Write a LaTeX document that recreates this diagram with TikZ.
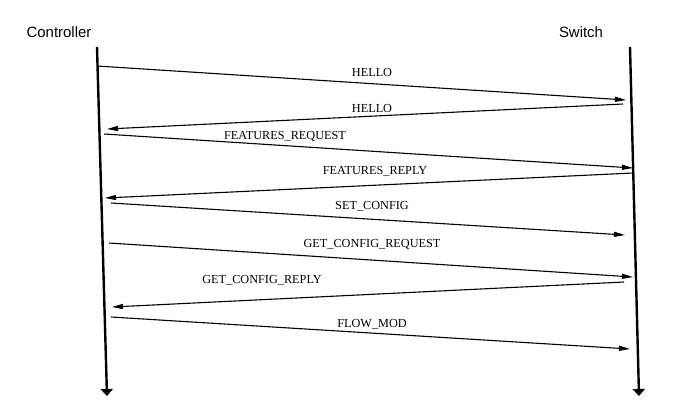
\documentclass[tikz,border=0pt]{standalone}
\usepackage{fontspec}
\setmainfont{Liberation Serif}
\setsansfont{Liberation Sans}
\usetikzlibrary{arrows.meta, positioning}

\tikzset{
  party/.style={font=\sffamily\fontsize{15}{17}\selectfont, inner sep=0pt},
  life/.style={line width=2.4bp, -{Triangle[length=7bp, width=12bp]}},
  msg/.style={line width=1.1bp, -{Triangle[length=11bp, width=5bp]}},
  lbl/.style={font=\fontsize{12.3}{14}\selectfont, inner sep=1bp},
}

\begin{document}
\begin{tikzpicture}[x=1bp, y=-1bp]
  \useasboundingbox (0,0) rectangle (678,404);

  % The two parties
  \node[party] (ctrl) at (59,32) {Controller};
  \node[party] (sw) at (581,32) {Switch};

  % Lifelines
  \coordinate (ctop) at (97,47);
  \coordinate (cbot) at (107,396);
  \coordinate (stop) at (630,47);
  \coordinate (sbot) at (639,396);
  \draw[life] (ctop) -- (cbot);
  \draw[life] (stop) -- (sbot);

  % Message ends
  \coordinate (m1a) at (97,66);   \coordinate (m1b) at (626,100);
  \coordinate (m2a) at (623,104); \coordinate (m2b) at (107,129);
  \coordinate (m3a) at (104,134); \coordinate (m3b) at (633,168);
  \coordinate (m4a) at (633,173); \coordinate (m4b) at (105,198);
  \coordinate (m5a) at (111,203); \coordinate (m5b) at (625,235);
  \coordinate (m6a) at (109,243); \coordinate (m6b) at (633,277);
  \coordinate (m7a) at (624,282); \coordinate (m7b) at (112,307);
  \coordinate (m8a) at (111,317); \coordinate (m8b) at (630,349);

  % Messages
  \draw[msg] (m1a) -- (m1b);
  \node[lbl] (hello1) at (372,72) {HELLO};

  \draw[msg] (m2a) -- (m2b);
  \node[lbl] (hello2) at (372,108) {HELLO};

  \draw[msg] (m3a) -- (m3b);
  \node[lbl] (freq) at (285,136) {FEATURES\_REQUEST};

  \draw[msg] (m4a) -- (m4b);
  \node[lbl] (frep) at (375,171) {FEATURES\_REPLY};

  \draw[msg] (m5a) -- (m5b);
  \node[lbl] (setcfg) at (372,206) {SET\_CONFIG};

  \draw[msg] (m6a) -- (m6b);
  \node[lbl] (gcreq) at (372,244) {GET\_CONFIG\_REQUEST};

  \draw[msg] (m7a) -- (m7b);
  \node[lbl] (gcrep) at (262,280) {GET\_CONFIG\_REPLY};

  \draw[msg] (m8a) -- (m8b);
  \node[lbl] (flowmod) at (372,324) {FLOW\_MOD};
\end{tikzpicture}
\end{document}
